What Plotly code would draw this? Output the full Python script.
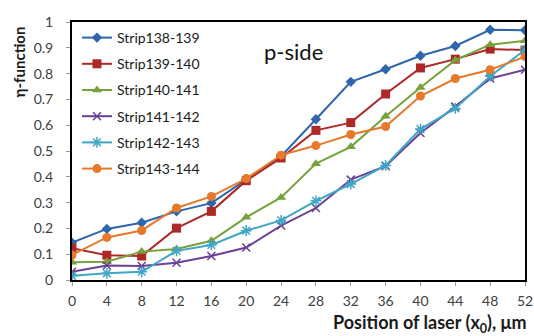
import plotly.graph_objects as go

positions = [0, 4, 8, 12, 16, 20, 24, 28, 32, 36, 40, 44, 48, 52]

series_names = ["Strip138-139", "Strip139-140", "Strip140-141",
                "Strip141-142", "Strip142-143", "Strip143-144"]

strip138_139 = [0.145, 0.198, 0.222, 0.266, 0.298, 0.390, 0.480, 0.623, 0.768, 0.817, 0.869, 0.907, 0.970, 0.968]
strip139_140 = [0.123, 0.096, 0.093, 0.201, 0.266, 0.385, 0.473, 0.580, 0.610, 0.721, 0.822, 0.856, 0.895, 0.891]
strip140_141 = [0.069, 0.071, 0.110, 0.120, 0.152, 0.243, 0.320, 0.451, 0.516, 0.635, 0.746, 0.852, 0.912, 0.927]
strip141_142 = [0.032, 0.056, 0.054, 0.067, 0.093, 0.126, 0.211, 0.279, 0.389, 0.441, 0.570, 0.672, 0.781, 0.815]
strip142_143 = [0.016, 0.026, 0.032, 0.113, 0.136, 0.191, 0.231, 0.307, 0.372, 0.444, 0.585, 0.665, 0.790, 0.892]
strip143_144 = [0.097, 0.165, 0.192, 0.279, 0.324, 0.393, 0.484, 0.521, 0.564, 0.595, 0.713, 0.781, 0.815, 0.866]

all_series = [strip138_139, strip139_140, strip140_141, strip141_142, strip142_143, strip143_144]

colors = ["#2E65AD", "#AE2828", "#76A23B", "#6A4196", "#3EA6C6", "#E8782A"]
symbols = ["diamond", "square", "triangle-up", "x-thin", "asterisk", "circle"]
sizes = [8, 9, 9, 8, 9, 9]

y_ticks = [0, 0.1, 0.2, 0.3, 0.4, 0.5, 0.6, 0.7, 0.8, 0.9, 1]
y_tick_labels = ["0", "0.1", "0.2", "0.3", "0.4", "0.5", "0.6", "0.7", "0.8", "0.9", "1"]

fig = go.Figure()
for i, (name, vals) in enumerate(zip(series_names, all_series)):
    thin = symbols[i] in ("x-thin", "asterisk")
    fig.add_trace(go.Scatter(
        x=positions, y=vals, name=name, mode="lines+markers",
        legendgroup=name,
        line=dict(color=colors[i], width=2),
        marker=dict(symbol=symbols[i], size=sizes[i], color=colors[i],
                    line=dict(color=colors[i], width=1.5 if thin else 0)),
    ))

font_family = "Lato, Open Sans, DejaVu Sans, sans-serif"

fig.update_layout(
    width=534, height=336,
    margin=dict(l=72, r=9, t=22, b=56),
    paper_bgcolor="white", plot_bgcolor="white",
    font=dict(family=font_family, size=14, color="#404040"),
    showlegend=True,
    legend=dict(
        x=0.011, y=1.0, xanchor="left", yanchor="top",
        bgcolor="rgba(255,255,255,0)",
        font=dict(size=14, color="#1a1a1a", family=font_family),
        tracegroupgap=5, itemwidth=30,
    ),
    xaxis=dict(
        range=[0, 52], tickmode="array", tickvals=positions,
        ticks="outside", ticklen=4, tickcolor="#999999",
        ticklabelstandoff=3,
        showline=True, linecolor="black", linewidth=2, mirror=True,
        showgrid=False, zeroline=False, automargin=False,
        tickfont=dict(size=14, color="#404040"),
    ),
    yaxis=dict(
        range=[0, 1], tickmode="array", tickvals=y_ticks, ticktext=y_tick_labels,
        ticks="outside", ticklen=4, tickcolor="#999999",
        ticklabelstandoff=10,
        showline=True, linecolor="black", linewidth=2, mirror=True,
        showgrid=False, zeroline=False, automargin=False,
        tickfont=dict(size=14, color="#404040"),
    ),
    annotations=[
        dict(text="p-side", x=0.419, y=0.885, xref="paper", yref="paper",
             xanchor="left", yanchor="middle", showarrow=False,
             font=dict(size=22, color="#111111", family=font_family)),
        dict(text="<b>η-function</b>", x=-0.115, y=0.847, xref="paper", yref="paper",
             textangle=-90, xanchor="center", yanchor="middle", showarrow=False,
             font=dict(size=15, color="#1a1a1a", family=font_family)),
        dict(text="<b>Position of laser (x<sub>0</sub>), μm</b>", x=0.79, y=-0.168,
             xref="paper", yref="paper", xanchor="center", yanchor="middle",
             showarrow=False,
             font=dict(size=18, color="#1a1a1a", family=font_family)),
    ],
)

fig.write_html("out.html", config={"displayModeBar": False},
               post_script="document.body.style.margin='0px';")
